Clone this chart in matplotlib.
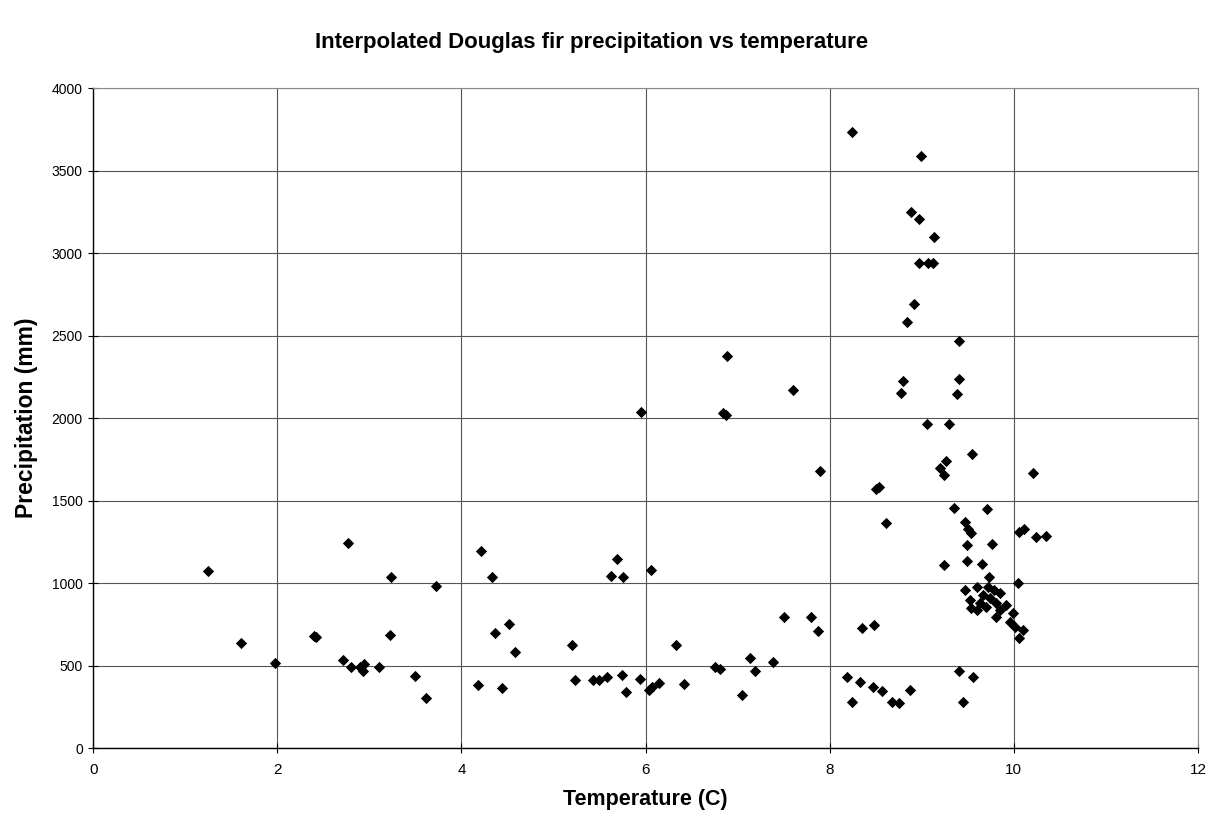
import matplotlib
matplotlib.use("Agg")
import matplotlib.pyplot as plt

# temperature (C) and interpolated precipitation (mm)
temperature = [
    1.25, 1.61, 1.97, 2.40, 2.42, 2.71, 2.77, 2.80, 2.90, 2.93, 2.94, 3.11,
    3.22, 3.24, 3.50, 3.62, 3.72, 4.18, 4.21, 4.33, 4.37, 4.44, 4.52, 4.58,
    5.20, 5.23, 5.43, 5.49, 5.58, 5.62, 5.69, 5.74, 5.76, 5.79, 5.94, 5.95,
    6.04, 6.06, 6.07, 6.15, 6.33, 6.42, 6.75, 6.81, 6.84, 6.87, 6.89, 7.05,
    7.14, 7.19, 7.39, 7.50, 7.60, 7.80, 7.87, 7.89, 8.19, 8.24, 8.24, 8.33,
    8.35, 8.47, 8.48, 8.50, 8.54, 8.57, 8.61, 8.68, 8.75, 8.77, 8.80, 8.84,
    8.87, 8.88, 8.92, 8.97, 8.97, 8.99, 9.06, 9.07, 9.12, 9.13, 9.20, 9.24,
    9.24, 9.26, 9.30, 9.35, 9.38, 9.40, 9.41, 9.41, 9.45, 9.47, 9.49, 9.49,
    9.50, 9.54, 9.55, 9.56, 9.66, 9.71, 9.73, 9.76, 10.05, 10.06, 10.11, 10.24,
    10.35, 10.21,
    9.47, 9.60, 9.72, 9.78, 9.85, 9.52, 9.63, 9.74, 9.81, 9.54, 9.70, 9.92,
    9.81, 9.99, 9.96, 10.01, 10.10, 10.06, 9.67, 9.85, 9.60,
]
precipitation = [
    1073, 638, 517, 679, 673, 533, 1244, 493, 490, 467, 513, 493,
    685, 1038, 436, 301, 982, 382, 1196, 1038, 699, 362, 752, 584,
    628, 416, 416, 412, 432, 1044, 1149, 442, 1038, 341, 420, 2038,
    352, 1079, 372, 392, 628, 386, 493, 477, 2028, 2018, 2376, 321,
    544, 469, 523, 792, 2168, 796, 711, 1681, 432, 281, 3735, 402,
    731, 368, 745, 1568, 1580, 347, 1366, 281, 271, 2150, 2224, 2580,
    352, 3250, 2691, 3206, 2937, 3588, 1964, 2941, 2937, 3095, 1695, 1655,
    1109, 1739, 1964, 1456, 2143, 2469, 2234, 469, 277, 1372, 1230, 1135,
    1331, 1301, 1780, 432, 1115, 1447, 1038, 1240, 998, 1311, 1331, 1281,
    1285, 1670,
    958, 978, 978, 958, 938, 897, 877, 907, 877, 847, 856, 867,
    796, 816, 766, 735, 715, 665, 928, 836, 836,
]

x_ticks = [0, 2, 4, 6, 8, 10, 12]
y_ticks = [0, 500, 1000, 1500, 2000, 2500, 3000, 3500, 4000]

plt.rcParams['font.family'] = ['Liberation Sans', 'DejaVu Sans']

fig = plt.figure(figsize=(12.1, 8.15), dpi=100)
ax = fig.add_axes([0.077, 0.082, 0.913, 0.810])

ax.scatter(temperature, precipitation, marker='D', s=33, c='black',
           linewidths=0, zorder=3)

ax.set_xlim(0, 12)
ax.set_ylim(0, 4000)
ax.set_xticks(x_ticks)
ax.set_yticks(y_ticks)
ax.tick_params(axis='y', labelsize=10, length=7, direction='inout',
               pad=4, color='black')
ax.tick_params(axis='x', labelsize=11, length=7, direction='inout',
               pad=7, color='black')
ax.grid(True, color='#555555', linewidth=0.8)
ax.set_axisbelow(True)

for side in ['top', 'right']:
    ax.spines[side].set_color('#888888')
    ax.spines[side].set_linewidth(0.8)
for side in ['left', 'bottom']:
    ax.spines[side].set_color('black')
    ax.spines[side].set_linewidth(1.0)

ax.set_xlabel('Temperature (C)', fontsize=15.5, fontweight='bold',
              labelpad=9)
ax.set_ylabel('Precipitation (mm)', fontsize=16.5, fontweight='bold',
              labelpad=10)
fig.text(0.489, 0.948, 'Interpolated Douglas fir precipitation vs temperature',
         ha='center', va='center', fontsize=16, fontweight='bold')

fig.savefig('out.png', dpi=100, facecolor='white')
